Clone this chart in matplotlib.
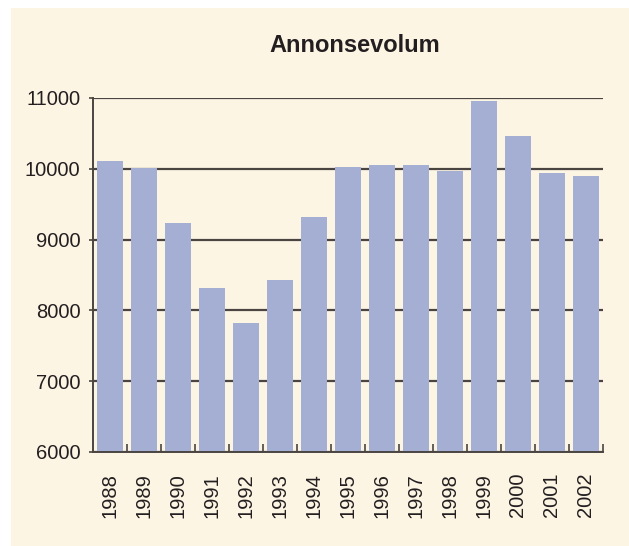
import matplotlib
matplotlib.use("Agg")
import matplotlib.pyplot as plt
from matplotlib.patches import Rectangle
from matplotlib.ticker import FixedLocator

# data
years = ["1988", "1989", "1990", "1991", "1992", "1993", "1994", "1995",
         "1996", "1997", "1998", "1999", "2000", "2001", "2002"]
volume = [10110, 10010, 9230, 8320, 7815, 8435, 9315, 10025,
          10055, 10055, 9975, 10955, 10460, 9945, 9900]
y_ticks = [6000, 7000, 8000, 9000, 10000, 11000]

bg = "#FDF5E4"
bar_col = "#A5AFD4"
line_col = "#4A4540"

plt.rcParams["font.family"] = ["Liberation Sans", "DejaVu Sans"]

W, H = 629, 546
fig = plt.figure(figsize=(W / 100, H / 100), dpi=100)
fig.patch.set_facecolor("white")

# cream panel behind everything
back = fig.add_axes([11 / W, 0, 1 - 11 / W, 1 - 8 / H], zorder=-5)
back.set_facecolor(bg)
back.axis("off")
back.add_patch(Rectangle((0, 0), 1, 1, transform=back.transAxes,
                         facecolor=bg, edgecolor="none"))

ax = fig.add_axes([93 / W, 1 - 452 / H, 510 / W, 354 / H])
ax.set_facecolor(bg)

x = list(range(len(years)))
ax.bar(x, volume, width=0.74, color=bar_col, zorder=3)

ax.set_xlim(-0.5, len(years) - 0.5)
ax.set_ylim(6000, 11000)
ax.set_yticks(y_ticks)
ax.set_yticklabels([str(v) for v in y_ticks], fontsize=14.5, color="#231F20")
ax.yaxis.grid(True, color=line_col, linewidth=1.6, zorder=1)
ax.tick_params(axis="y", length=3, width=1.2, color=line_col, pad=6)

ax.set_xticks(x)
ax.set_xticklabels(years, rotation=90, fontsize=14.5, color="#231F20")
ax.tick_params(axis="x", which="major", length=0, pad=15)
ax.xaxis.set_minor_locator(FixedLocator([i + 0.5 for i in range(len(years))]))
ax.tick_params(axis="x", which="minor", direction="in", length=6,
               width=1.2, color=line_col)

for side in ["top", "right"]:
    ax.spines[side].set_visible(False)
for side in ["left", "bottom"]:
    ax.spines[side].set_color(line_col)
    ax.spines[side].set_linewidth(1.4)
    ax.spines[side].set_zorder(4)

fig.text(355 / W, 1 - 45 / H, "Annonsevolum", ha="center", va="center",
         fontsize=17, fontweight="bold", color="#231F20")

fig.savefig("out.png", dpi=100, facecolor=fig.get_facecolor())
